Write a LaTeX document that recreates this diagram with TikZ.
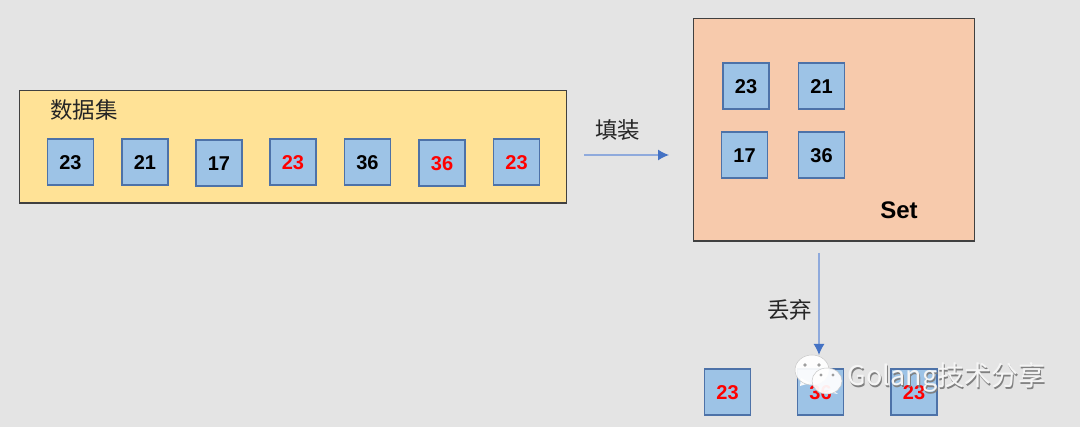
\documentclass[tikz,border=0pt]{standalone}
\usepackage{xcolor}
\usepackage{fontspec}
\setmainfont{Liberation Sans}
\newfontfamily\cjkfont{Noto Sans CJK SC}
\usetikzlibrary{arrows.meta,shapes.geometric}
\definecolor{pagegray}{HTML}{E4E4E4}
\definecolor{fillset}{HTML}{FFE296}
\definecolor{fillbag}{HTML}{F7CAAC}
\definecolor{fillitem}{HTML}{9DC3E6}
\definecolor{edgeitem}{HTML}{4D72A8}
\definecolor{arrowblue}{HTML}{4472C4}
\definecolor{arrowline}{HTML}{8FAADC}
\tikzset{
  zone/.style={draw=black!75, line width=1.3pt, anchor=north west, inner sep=0pt},
  item/.style={draw=edgeitem, line width=1.3pt, fill=fillitem, minimum width=46pt, minimum height=46pt,
    inner sep=0pt, text height=16pt, text depth=0pt, font=\fontsize{20}{20}\selectfont\bfseries},
  dup/.style={item, text=red},
  lbl/.style={font=\fontsize{22.5}{22.5}\selectfont\cjkfont, inner sep=0pt, text=black!85},
  arr/.style={-{Latex[length=11pt,width=11pt,color=arrowblue]}, line width=1.3pt, draw=arrowline},
  bubble/.style={draw=black!22, line width=0.5pt, fill=white, fill opacity=0.93},
  tail/.style={fill=white, opacity=0.93},
  wmark/.style={font=\fontsize{27}{27}\selectfont\cjkfont, inner sep=0pt, anchor=west},
}
\begin{document}
\begin{tikzpicture}[x=1pt, y=-1pt]
\useasboundingbox[fill=pagegray] (0,0) rectangle (1080,427);

\node[zone, fill=fillset, minimum width=546.5pt, minimum height=112.5pt] (dataset) at (19,90) {};
\node[zone, fill=fillbag, minimum width=280.5pt, minimum height=222.5pt] (bag) at (693,18) {};

\node[lbl] (t_data) at (84,110) {数据集};
\node[lbl] (t_fill) at (617.5,130) {填装};
\node[lbl] (t_drop) at (789.5,310) {丢弃};
\node[font=\fontsize{24}{24}\selectfont\bfseries, inner sep=0pt] (t_set) at (899,210) {Set};

\node[item] (d_a) at (70.5,162) {23};
\node[item] (d_b) at (145,162) {21};
\node[item] (d_c) at (219,163) {17};
\node[dup] (d_d) at (293,162) {23};
\node[item] (d_e) at (367.5,162) {36};
\node[dup] (d_f) at (442,163) {36};
\node[dup] (d_g) at (516.5,162) {23};

\node[item] (s_a) at (746,86) {23};
\node[item] (s_b) at (821.5,86) {21};
\node[item] (s_c) at (744.5,155) {17};
\node[item] (s_d) at (821.5,155) {36};

\node[dup] (o_a) at (727.5,392) {23};
\node[dup] (o_b) at (820.5,392) {36};
\node[dup] (o_c) at (914,392) {23};

\coordinate (fill_from) at (584,155);
\coordinate (fill_to) at (669,155);
\coordinate (drop_from) at (819,253);
\coordinate (drop_to) at (819,355);
\draw[arr] (fill_from) -- (fill_to);
\draw[arr] (drop_from) -- (drop_to);

% watermark
\fill[tail] (801,378) -- (800,386) -- (810,383) -- cycle;
\draw[bubble] (812,370) ellipse [x radius=17pt, y radius=15pt];
\fill[black!38] (805,365) circle (1.8pt) (819,365) circle (1.8pt);
\fill[tail] (832,390) -- (838,394) -- (827,392) -- cycle;
\draw[bubble] (827,381) ellipse [x radius=15pt, y radius=13pt];
\fill[black!38] (821,375) circle (1.6pt) (833,375) circle (1.6pt);
\node[wmark, text=black!50] (w_back) at (848.5,379) {Golang技术分享};
\node[wmark, text=black!4] (w_text) at (847.5,377.5) {Golang技术分享};
\end{tikzpicture}
\end{document}
